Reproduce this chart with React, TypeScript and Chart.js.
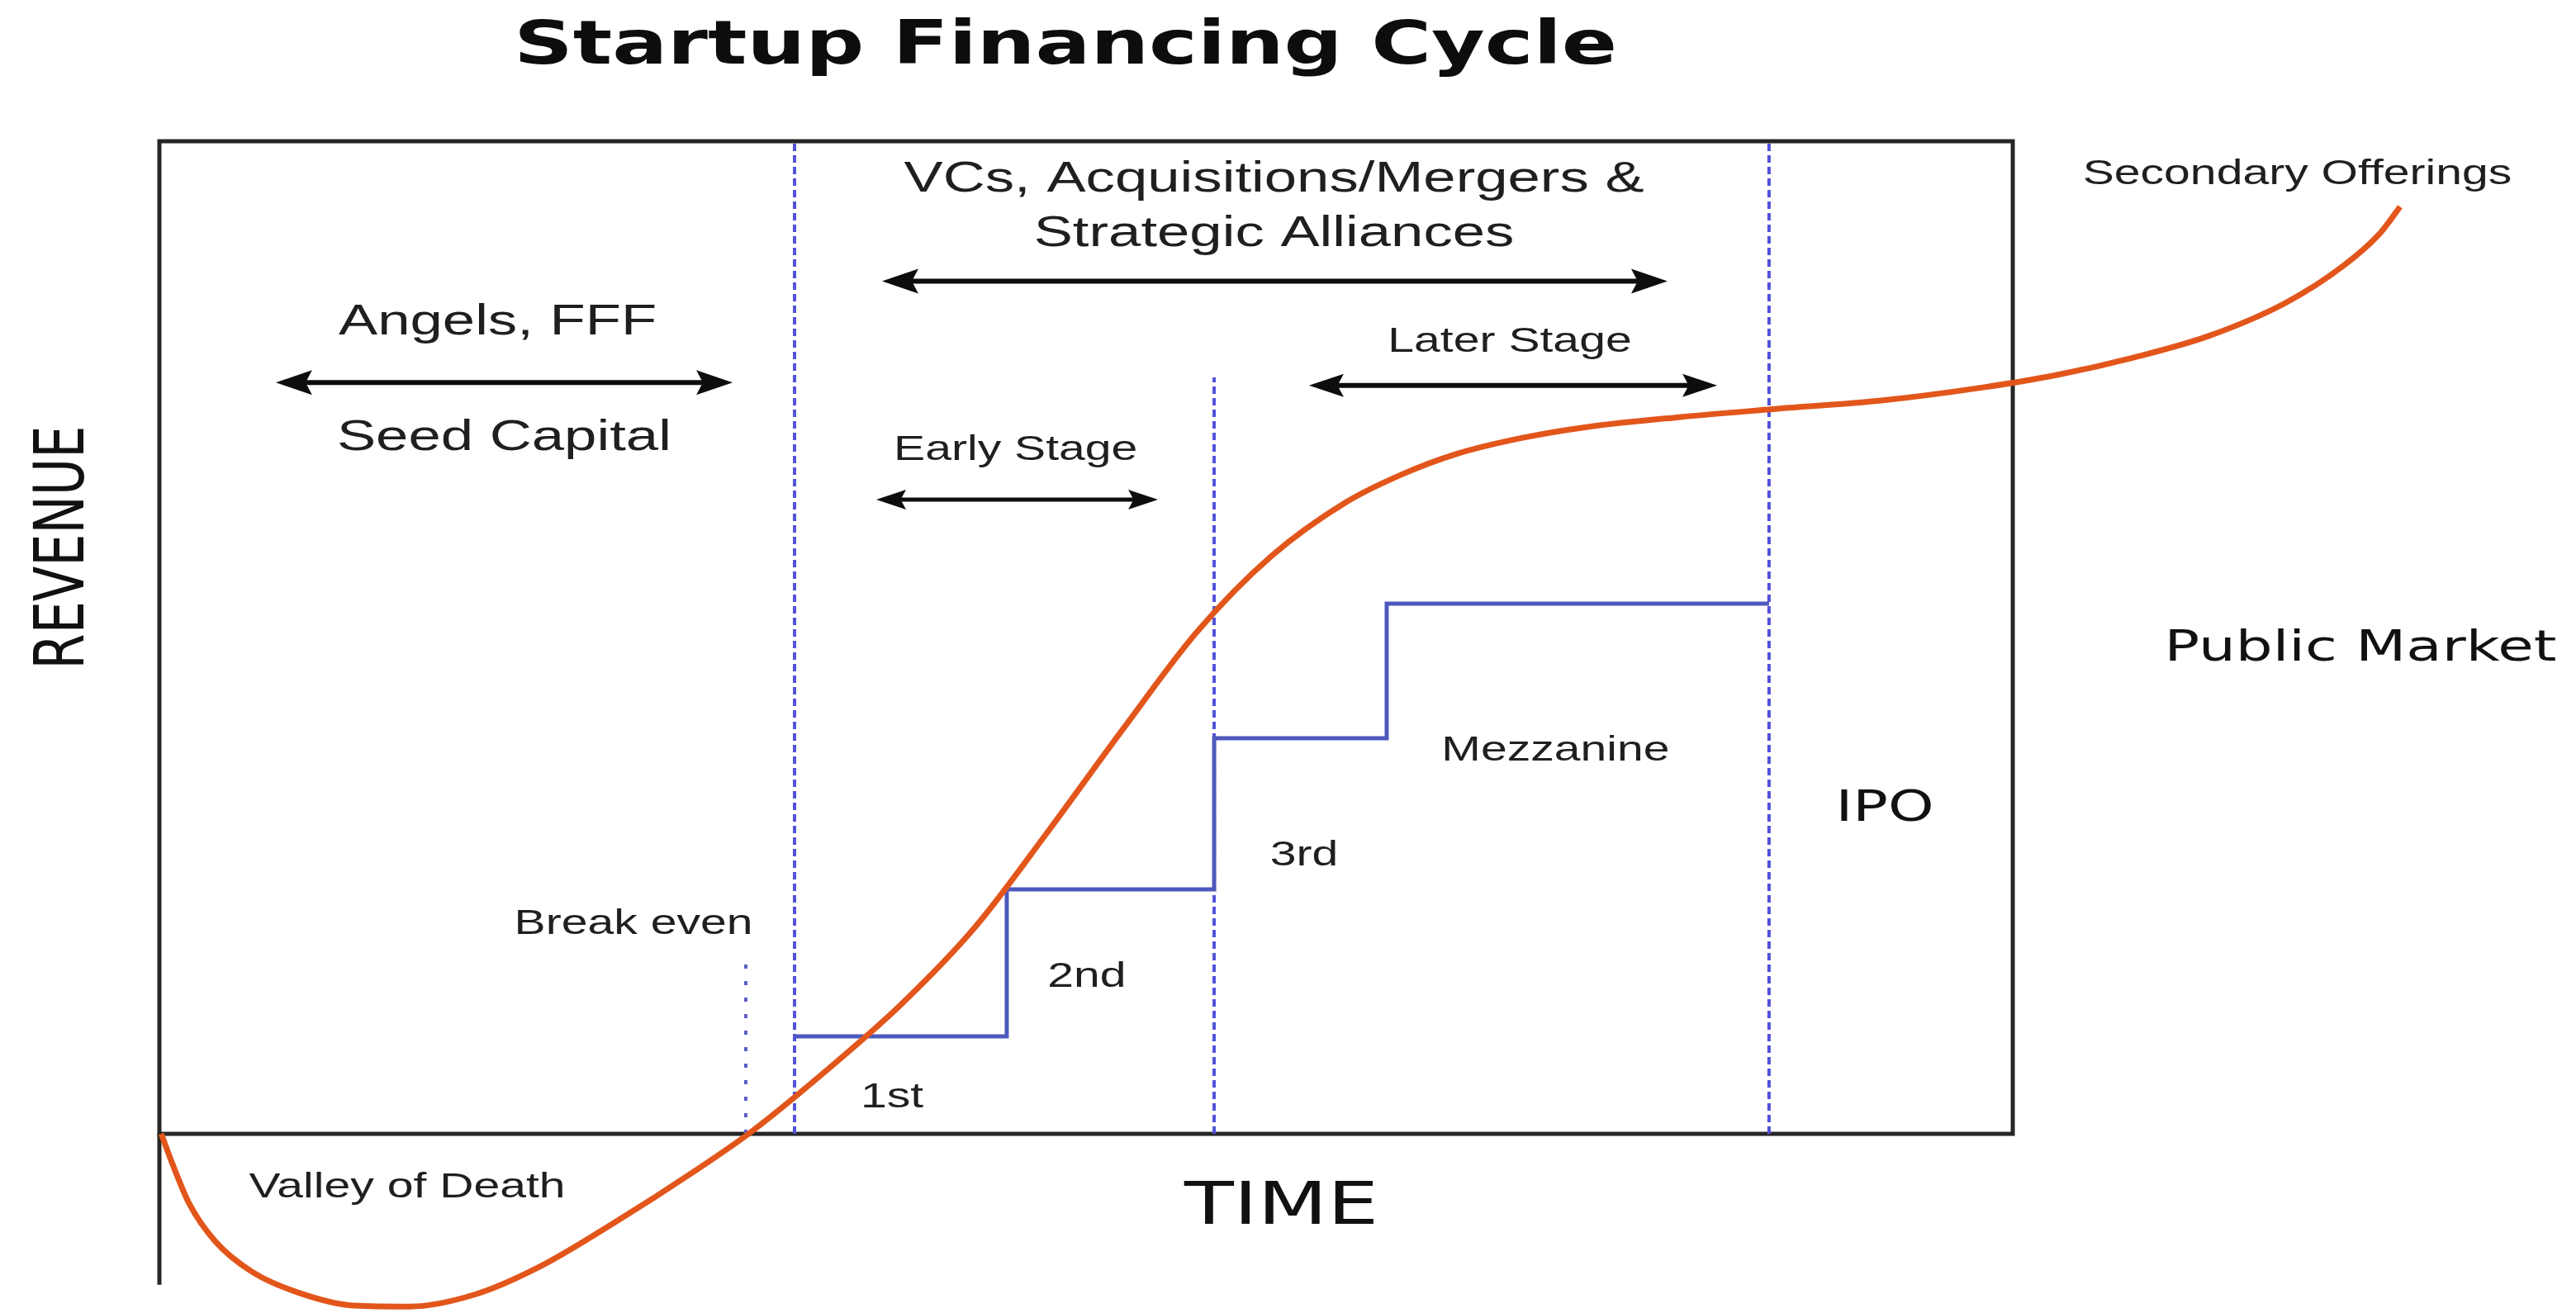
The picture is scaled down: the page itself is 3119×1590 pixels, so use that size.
import React, { useEffect, useRef } from "react";
import { Chart, registerables } from "chart.js";

Chart.register(...registerables);

// ---------- DATA (time units: financing box spans 0..100; revenue units: box spans 0..100) ----------
const curveTime = [0.1, 0.7, 1.6, 3.0, 5.0, 7.5, 10.5, 13.5, 17.0, 20.5, 24.5, 29.0, 32.0, 36.0, 40.0, 44.0, 48.0, 52.0, 56.0, 60.0, 64.0, 67.0, 70.0, 73.5, 77.0, 82.0, 87.0, 93.0, 98.4, 102.5, 106.5, 110.6, 114.7, 117.8, 119.8, 120.9];
const curveRevenue = [0, -3.0, -7.0, -10.8, -13.9, -16.0, -17.3, -17.4, -16.2, -13.4, -9.0, -3.6, 0.3, 6.4, 13.0, 20.8, 30.6, 40.8, 50.6, 58.2, 63.6, 66.4, 68.5, 70.1, 71.2, 72.2, 73.0, 73.9, 75.2, 76.5, 78.2, 80.4, 83.7, 87.4, 90.7, 93.4];

const roundNames = ["1st", "2nd", "3rd", "Mezzanine"];
const roundStartTime = [34.27, 45.72, 56.91, 66.22, 86.85];
const roundFunding = [9.82, 24.63, 39.85, 53.41, 53.41];

const stageBoundaryTime = [34.27, 56.91, 86.85];
const stageBoundaryTop = [100, 76.2, 100];

const breakEvenTime = [31.64];
const breakEvenTop = [18.0];

const labelTexts = [
  "Startup Financing Cycle",
  "VCs, Acquisitions/Mergers &",
  "Strategic Alliances",
  "Angels, FFF",
  "Seed Capital",
  "Early Stage",
  "Later Stage",
  roundNames[3],
  roundNames[0],
  roundNames[1],
  roundNames[2],
  "Break even",
  "Valley of Death",
  "IPO",
  "Public Market",
  "Secondary Offerings",
  "TIME",
  "REVENUE",
];

// ---------- LAYOUT (positions in data units, styles) ----------
const SANS = "'Liberation Sans', Arial, sans-serif";
const DEJA = "'DejaVu Sans', Verdana, sans-serif";
const TEXT_STRETCH = 1.36;
const LBL = "#1f1f1f";

const labelLayout = [
  { t: 48.89, r: 109.4, font: `bold 73px ${DEJA}`, color: "#0d0d0d" },
  { t: 60.14, r: 96.15, font: `52px ${SANS}`, color: LBL },
  { t: 60.14, r: 90.65, font: `52px ${SANS}`, color: LBL },
  { t: 18.25, r: 81.75, font: `52px ${SANS}`, color: LBL },
  { t: 18.6, r: 70.05, font: `52px ${SANS}`, color: LBL },
  { t: 46.2, r: 68.85, font: `42px ${SANS}`, color: LBL },
  { t: 72.86, r: 79.75, font: `42px ${SANS}`, color: LBL },
  { t: 75.33, r: 38.6, font: `42px ${SANS}`, color: LBL },
  { t: 39.53, r: 3.6, font: `42px ${SANS}`, color: LBL },
  { t: 50.04, r: 15.8, font: `42px ${SANS}`, color: LBL },
  { t: 61.76, r: 28.0, font: `42px ${SANS}`, color: LBL },
  { t: 25.58, r: 21.1, font: `42px ${SANS}`, color: LBL },
  { t: 13.37, r: -5.4, font: `42px ${SANS}`, color: LBL },
  { t: 93.09, r: 32.7, font: `52px ${DEJA}`, color: "#111" },
  { t: 118.76, r: 48.8, font: `52px ${DEJA}`, color: "#111" },
  { t: 115.35, r: 96.65, font: `42px ${SANS}`, color: LBL },
  { t: 60.54, r: -7.5, font: `72px ${DEJA}`, color: "#111" },
  { t: -5.08, r: 59.07, font: `62px ${DEJA}`, color: "#111", rotate: true },
];

const arrowLayout = [
  { t1: 6.28, t2: 30.93, r: 75.7, head: 44, half: 15, lw: 6 },
  { t1: 38.99, t2: 81.37, r: 85.9, head: 44, half: 15, lw: 6 },
  { t1: 38.68, t2: 53.88, r: 63.9, head: 36, half: 12, lw: 5 },
  { t1: 62.03, t2: 84.05, r: 75.4, head: 42, half: 14, lw: 6 },
];

const BOX = { t0: 0, t1: 100, r0: 0, r1: 100, axisBottom: -15.2 };

const W = 3119;
const H = 1590;

const decorPlugin = {
  id: "decor",
  beforeDatasetsDraw(chart: any) {
    const { ctx, scales } = chart;
    const xs = scales.x;
    const ys = scales.y;
    const L = xs.getPixelForValue(BOX.t0);
    const R = xs.getPixelForValue(BOX.t1);
    const T = ys.getPixelForValue(BOX.r1);
    const B = ys.getPixelForValue(BOX.r0);
    const AB = ys.getPixelForValue(BOX.axisBottom);
    ctx.save();
    ctx.strokeStyle = "#262626";
    ctx.lineWidth = 5;
    ctx.lineJoin = "miter";
    ctx.strokeRect(L, T, R - L, B - T);
    ctx.beginPath();
    ctx.moveTo(L, B);
    ctx.lineTo(L, AB);
    ctx.stroke();
    ctx.restore();
  },
  afterDatasetsDraw(chart: any) {
    const { ctx, scales } = chart;
    const xs = scales.x;
    const ys = scales.y;
    arrowLayout.forEach((a) => {
      const x1 = xs.getPixelForValue(a.t1);
      const x2 = xs.getPixelForValue(a.t2);
      const y = ys.getPixelForValue(a.r);
      ctx.save();
      ctx.strokeStyle = "#0d0d0d";
      ctx.fillStyle = "#0d0d0d";
      ctx.lineWidth = a.lw;
      ctx.beginPath();
      ctx.moveTo(x1 + a.head * 0.7, y);
      ctx.lineTo(x2 - a.head * 0.7, y);
      ctx.stroke();
      ctx.beginPath();
      ctx.moveTo(x1, y);
      ctx.lineTo(x1 + a.head, y - a.half);
      ctx.lineTo(x1 + a.head * 0.82, y);
      ctx.lineTo(x1 + a.head, y + a.half);
      ctx.closePath();
      ctx.fill();
      ctx.beginPath();
      ctx.moveTo(x2, y);
      ctx.lineTo(x2 - a.head, y - a.half);
      ctx.lineTo(x2 - a.head * 0.82, y);
      ctx.lineTo(x2 - a.head, y + a.half);
      ctx.closePath();
      ctx.fill();
      ctx.restore();
    });
    labelTexts.forEach((text, i) => {
      const l: any = labelLayout[i];
      const x = xs.getPixelForValue(l.t);
      const y = ys.getPixelForValue(l.r);
      ctx.save();
      ctx.translate(x, y);
      ctx.scale(TEXT_STRETCH, 1);
      if (l.rotate) ctx.rotate(-Math.PI / 2);
      ctx.font = l.font;
      ctx.fillStyle = l.color;
      ctx.textAlign = "center";
      ctx.textBaseline = "middle";
      ctx.fillText(text, 0, 0);
      ctx.restore();
    });
  },
};

export default function App() {
  const ref = useRef<HTMLCanvasElement>(null);
  useEffect(() => {
    document.body.style.margin = "0";
    document.body.style.overflow = "hidden";
    const canvas = ref.current!;

    const boundarySets = stageBoundaryTime.map((t, i) => ({
      label: `boundary${i}`,
      data: [
        { x: t, y: 0 },
        { x: t, y: stageBoundaryTop[i] },
      ],
      borderColor: "#5252dc",
      borderWidth: 4,
      borderDash: [9, 5],
      pointRadius: 0,
      tension: 0,
      order: 3,
    }));
    const breakEvenSets = breakEvenTime.map((t, i) => ({
      label: `breakeven${i}`,
      data: [
        { x: t, y: 0 },
        { x: t, y: breakEvenTop[i] },
      ],
      borderColor: "#5e5ec8",
      borderWidth: 4,
      borderDash: [5, 15],
      pointRadius: 0,
      tension: 0,
      order: 3,
    }));

    const chart = new Chart(canvas, {
      type: "line",
      data: {
        datasets: [
          {
            label: "Revenue",
            data: curveTime.map((t, i) => ({ x: t, y: curveRevenue[i] })),
            borderColor: "#e2561b",
            borderWidth: 7,
            pointRadius: 0,
            cubicInterpolationMode: "monotone",
            fill: false,
            order: 0,
          },
          {
            label: "Funding rounds",
            data: roundStartTime.map((t, i) => ({ x: t, y: roundFunding[i] })),
            borderColor: "#4d59bc",
            borderWidth: 5,
            pointRadius: 0,
            stepped: "before",
            fill: false,
            order: 1,
          },
          ...boundarySets,
          ...breakEvenSets,
        ] as any,
      },
      options: {
        responsive: false,
        maintainAspectRatio: false,
        devicePixelRatio: 1,
        animation: false,
        events: [],
        layout: { autoPadding: false, padding: 0 },
        plugins: {
          legend: { display: false },
          tooltip: { enabled: false },
          title: { display: false },
        },
        scales: {
          x: { type: "linear", display: false, min: -8.6, max: 130.39 },
          y: { type: "linear", display: false, min: -18.05, max: 114.23 },
        },
      } as any,
      plugins: [decorPlugin],
    });
    return () => chart.destroy();
  }, []);

  return (
    <div style={{ width: W, height: H, background: "#fff" }}>
      <canvas ref={ref} width={W} height={H} style={{ display: "block", width: W, height: H }} />
    </div>
  );
}
